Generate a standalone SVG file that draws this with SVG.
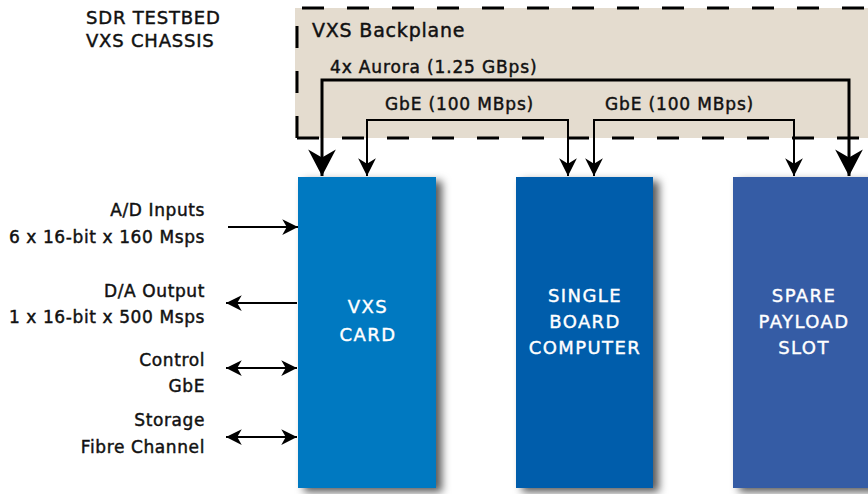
<svg xmlns="http://www.w3.org/2000/svg" width="868" height="494" viewBox="0 0 868 494">
  <defs>
    <style>
      .t { font-family: "DejaVu Sans", "Liberation Sans", sans-serif; fill: #111; stroke: #111; stroke-width: 0.45px; }
      .title { font-size: 18px; letter-spacing: 0.8px; }
      .bp { font-size: 19px; letter-spacing: 0.8px; }
      .lbl { font-size: 17px; letter-spacing: 0.85px; }
      .side { font-size: 17px; letter-spacing: 0.6px; text-anchor: end; }
      .box-t { font-family: "DejaVu Sans", "Liberation Sans", sans-serif; fill: #fff; stroke: #fff; stroke-width: 0.4px; font-size: 18px; letter-spacing: 1.4px; text-anchor: middle; }
      .thick { fill: none; stroke: #000; stroke-width: 3; }
      .thin { fill: none; stroke: #000; stroke-width: 2; }
    </style>
    <marker id="bigHead" markerUnits="userSpaceOnUse" markerWidth="30" markerHeight="30" viewBox="-24 -13 26 26" refX="0" refY="0" orient="auto-start-reverse">
      <path d="M0,0 L-23,-12 L-16,0 L-23,12 Z" fill="#000"/>
    </marker>
    <marker id="smallHead" markerUnits="userSpaceOnUse" markerWidth="20" markerHeight="20" viewBox="-17 -9 18 18" refX="0" refY="0" orient="auto-start-reverse">
      <path d="M0,0 L-16,-8 L-11,0 L-16,8 Z" fill="#000"/>
    </marker>
    <marker id="sideHead" markerUnits="userSpaceOnUse" markerWidth="18" markerHeight="18" viewBox="-15 -8 16 16" refX="0" refY="0" orient="auto-start-reverse">
      <path d="M0,0 L-14,-7 L-10,0 L-14,7 Z" fill="#000"/>
    </marker>
    <filter id="shadow" x="-20%" y="-10%" width="150%" height="130%">
      <feDropShadow dx="6" dy="4" stdDeviation="4" flood-color="#000" flood-opacity="0.65"/>
    </filter>
  </defs>

  <g id="chassis-label">
    <text class="t title" x="86" y="24">SDR TESTBED</text>
    <text class="t title" x="86" y="47">VXS CHASSIS</text>
  </g>

  <g id="backplane">
    <rect x="295" y="8" width="590" height="130" fill="#e4dccf"/>
    <path d="M297,138 V8 H880 M297,138 H880" fill="none" stroke="#000" stroke-width="3" stroke-dasharray="22 23"/>
    <text class="t bp" x="312" y="37">VXS Backplane</text>
    <text class="t lbl" x="330" y="73">4x Aurora (1.25 GBps)</text>
    <text class="t lbl" x="385" y="110">GbE (100 MBps)</text>
    <text class="t lbl" x="605" y="110">GbE (100 MBps)</text>
  </g>

  <g id="vxs-card">
    <rect x="298" y="177" width="138" height="311" fill="#0079c1" filter="url(#shadow)"/>
    <text class="box-t" x="368" y="313">VXS</text>
    <text class="box-t" x="368" y="341">CARD</text>
  </g>

  <g id="single-board-computer">
    <rect x="516" y="177" width="137" height="311" fill="#005dab" filter="url(#shadow)"/>
    <text class="box-t" x="585" y="302">SINGLE</text>
    <text class="box-t" x="585" y="328">BOARD</text>
    <text class="box-t" x="585" y="354">COMPUTER</text>
  </g>

  <g id="spare-payload-slot">
    <rect x="733" y="177" width="145" height="311" fill="#355ca5" filter="url(#shadow)"/>
    <text class="box-t" x="804" y="302">SPARE</text>
    <text class="box-t" x="804" y="328">PAYLOAD</text>
    <text class="box-t" x="804" y="354">SLOT</text>
  </g>

  <g id="io-labels">
    <text class="t side" x="205" y="216">A/D Inputs</text>
    <text class="t side" x="205" y="243">6 x 16-bit x 160 Msps</text>
    <text class="t side" x="205" y="297">D/A Output</text>
    <text class="t side" x="205" y="323">1 x 16-bit x 500 Msps</text>
    <text class="t side" x="205" y="366">Control</text>
    <text class="t side" x="205" y="392">GbE</text>
    <text class="t side" x="205" y="426">Storage</text>
    <text class="t side" x="205" y="453">Fibre Channel</text>
  </g>

  <g id="connectors">
    <path class="thick" d="M322,176 V80 H849 V176" marker-start="url(#bigHead)" marker-end="url(#bigHead)"/>
    <path class="thin" d="M367,176 V120 H568 V176" marker-start="url(#smallHead)" marker-end="url(#smallHead)"/>
    <path class="thin" d="M594,176 V120 H794 V176" marker-start="url(#smallHead)" marker-end="url(#smallHead)"/>
    <path class="thin" d="M228,227 H298" marker-end="url(#sideHead)"/>
    <path class="thin" d="M297,303 H226" marker-end="url(#sideHead)"/>
    <path class="thin" d="M226,368 H297" marker-start="url(#sideHead)" marker-end="url(#sideHead)"/>
    <path class="thin" d="M226,437 H297" marker-start="url(#sideHead)" marker-end="url(#sideHead)"/>
  </g>
</svg>
